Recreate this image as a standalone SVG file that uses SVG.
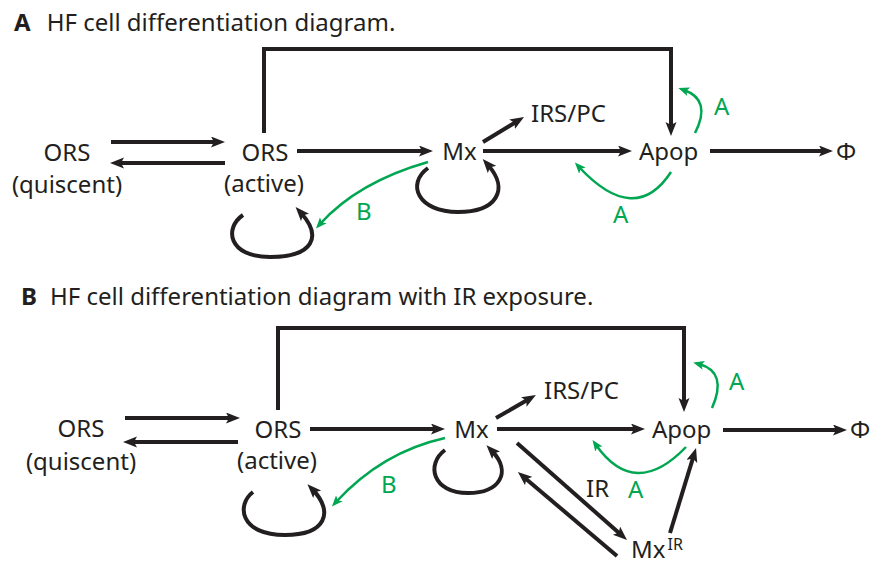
<svg xmlns="http://www.w3.org/2000/svg" width="872" height="566" viewBox="0 0 872 566">
<defs>
<style>
text{font-family:"Noto Sans","Open Sans","Liberation Sans",sans-serif;fill:#231f20;}
.t{font-size:24px;}
.b{font-weight:bold;}
.n{font-size:24px;text-anchor:middle;}
.nl{font-size:24px;}
.g{fill:#00a651;font-size:24px;}
.sup{font-size:16px;}
.k{fill:none;stroke:#231f20;stroke-width:4;marker-end:url(#ak);}
.gr{fill:none;stroke:#00a651;stroke-width:2.5;marker-end:url(#ag);}
</style>
<marker id="ak" markerUnits="userSpaceOnUse" markerWidth="16" markerHeight="12" refX="6" refY="5.5" orient="auto">
<path d="M0,0 L14,5.5 L0,11 L3,5.5 z" fill="#231f20"/>
</marker>
<marker id="ag" markerUnits="userSpaceOnUse" markerWidth="12" markerHeight="10" refX="5" refY="4.5" orient="auto">
<path d="M0,0 L11,4.5 L0,9 L2.5,4.5 z" fill="#00a651"/>
</marker>
</defs>

<!-- Panel A -->
<g id="titleA"><text class="t" x="14" y="31"><tspan class="b">A</tspan><tspan x="46.7">HF cell differentiation diagram.</tspan></text></g>
<g id="A-orsq"><text class="n" x="67" y="161">ORS</text><text class="n" x="67" y="193">(quiscent)</text></g>
<g id="A-orsa"><text class="n" x="265" y="161">ORS</text><text class="n" x="264" y="192">(active)</text></g>
<g id="A-mx"><text class="n" x="459.5" y="160">Mx</text></g>
<g id="A-irs"><text class="nl" x="531" y="122">IRS/PC</text></g>
<g id="A-apop"><text class="nl" x="639" y="160">Apop</text></g>
<g id="A-phi"><text class="n" x="846" y="160">Φ</text></g>
<g id="A-labels">
<text class="g" x="714" y="115">A</text>
<text class="g" x="613" y="223">A</text>
<text class="g" x="356" y="220">B</text>
</g>
<g id="A-connectors">
<path class="k" d="M111,142 H217"/>
<path class="k" d="M225,163 H118"/>
<path class="k" d="M297,151 H425"/>
<path class="k" d="M264,133 V49 H671 V128"/>
<path class="k" d="M483,142 L517.2,121.2"/>
<path class="k" d="M483,151 H624"/>
<path class="k" d="M710,151 H825"/>
<path class="k" d="M428,168 C406,184 418,212 458,212 C496,212 510,190 488,165"/>
<path class="k" d="M243,215 C224,228 228,257 270,257 C314,257 322,236 301,213"/>
<path class="gr" d="M428,162 Q358,182 320,224"/>
<path class="gr" d="M695,133 Q712,100 684,90"/>
<path class="gr" d="M671,172 Q635,227 579,167"/>
</g>

<!-- Panel B -->
<g id="titleB"><text class="t" x="21" y="305"><tspan class="b">B</tspan><tspan x="50">HF cell differentiation diagram with IR exposure.</tspan></text></g>
<g id="B-orsq"><text class="n" x="81" y="437">ORS</text><text class="n" x="81" y="470">(quiscent)</text></g>
<g id="B-orsa"><text class="n" x="278" y="438">ORS</text><text class="n" x="277" y="469">(active)</text></g>
<g id="B-mx"><text class="n" x="471.5" y="438">Mx</text></g>
<g id="B-irs"><text class="nl" x="544" y="399">IRS/PC</text></g>
<g id="B-apop"><text class="nl" x="652" y="438">Apop</text></g>
<g id="B-phi"><text class="n" x="860" y="438">Φ</text></g>
<g id="B-mxir"><text class="nl" x="631" y="558">Mx<tspan class="sup" dx="2" dy="-8">IR</tspan></text></g>
<g id="B-labels">
<text class="g" x="729" y="390">A</text>
<text class="g" x="628" y="498">A</text>
<text class="g" x="381" y="493">B</text>
<text class="nl" x="586" y="497">IR</text>
</g>
<g id="B-connectors">
<path class="k" d="M125,418 H232"/>
<path class="k" d="M238,442 H131"/>
<path class="k" d="M310,429 H437"/>
<path class="k" d="M278,410 V328 H684 V404"/>
<path class="k" d="M496,418 L529,399"/>
<path class="k" d="M497,429 H637"/>
<path class="k" d="M723,430 H839"/>
<path class="k" d="M517,443 L621,534.7"/>
<path class="k" d="M617,556 L524,477.2"/>
<path class="k" d="M670,533 L693.7,455.6"/>
<path class="k" d="M445,450 C426,464 432,493 468,493 C500,493 512,472 492,451"/>
<path class="k" d="M253,492 C236,505 240,535 285,535 C326,535 334,512 313,490"/>
<path class="gr" d="M445,438 Q382,452 336,502"/>
<path class="gr" d="M712,408 Q728,372 699,364"/>
<path class="gr" d="M686,447 Q635,500 596,445"/>
</g>
</svg>
